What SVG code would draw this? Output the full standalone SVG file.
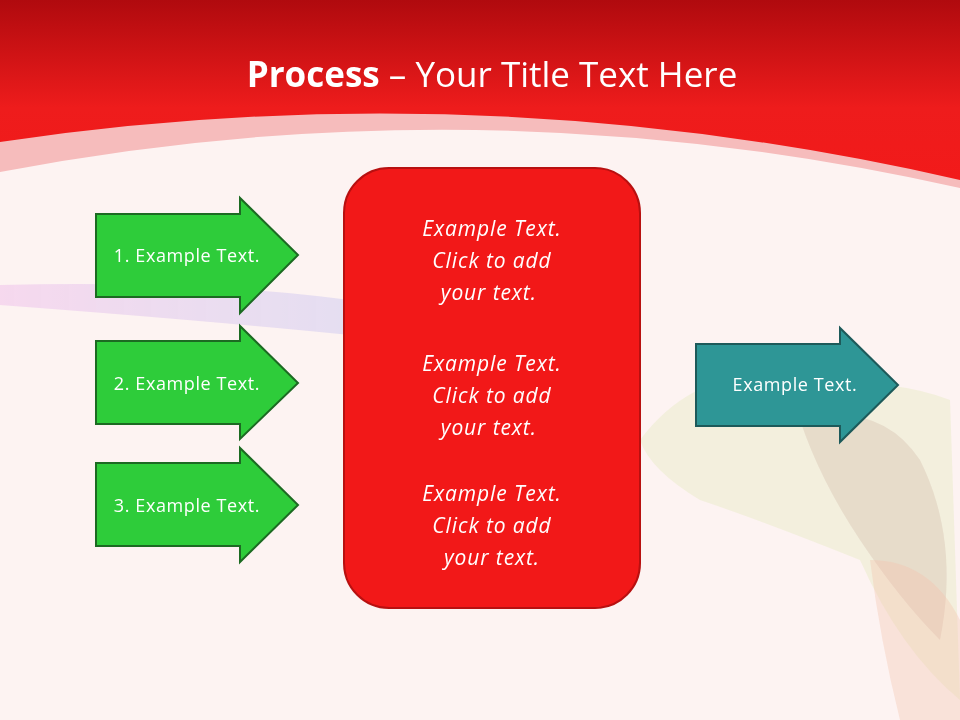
<svg xmlns="http://www.w3.org/2000/svg" width="960" height="720" viewBox="0 0 960 720">
<defs>
<linearGradient id="hdr" x1="0" y1="0" x2="0" y2="1"><stop offset="0" stop-color="#b00a0e"/><stop offset="0.6" stop-color="#ee1c1c"/><stop offset="1" stop-color="#f21a1a"/></linearGradient>
<linearGradient id="streak" x1="0" y1="0" x2="1" y2="0"><stop offset="0" stop-color="#e8a8e8" stop-opacity="0.7"/><stop offset="1" stop-color="#b0b0f0" stop-opacity="0.6"/></linearGradient>
<style>
.g{fill:#2ecc3a;stroke:#1c6a22;stroke-width:2}
.t{fill:#2e9696;stroke:#1d5a5a;stroke-width:2}
.lbl{font-family:"Open Sans","Liberation Sans",sans-serif;font-size:18px;letter-spacing:0.6px;fill:#fff;text-anchor:middle}
.box{font-family:"Open Sans","Liberation Sans",sans-serif;font-size:21px;letter-spacing:0.9px;font-style:italic;fill:#fff;text-anchor:middle}
</style>
</defs>
<rect width="960" height="720" fill="#fdf3f2"/>
<path d="M0 172 Q480 80 960 188 L960 0 L0 0Z" fill="#f6bcbc"/>
<path d="M0 142 Q480 70 960 180 L960 0 L0 0Z" fill="url(#hdr)"/>
<g opacity="0.5">
<path d="M0 285 Q200 280 350 300 L350 335 Q200 320 0 305Z" fill="url(#streak)"/>
<path d="M640 440 Q700 360 800 380 Q900 380 950 400 L960 700 Q900 650 860 560 Q760 520 700 500 Q650 470 640 440Z" fill="#d8e6a0" opacity="0.5"/>
<path d="M800 420 Q880 400 920 460 Q960 540 940 640 Q900 600 860 540 Q820 480 800 420Z" fill="#9a6a50" opacity="0.3"/>
<path d="M870 560 Q930 560 960 620 L960 720 L900 720 Q880 640 870 560Z" fill="#e89060" opacity="0.35"/>
</g>
<text x="492" y="87" font-family="'Open Sans','Liberation Sans',sans-serif" font-size="35" fill="#fff" text-anchor="middle"><tspan font-weight="bold">Process</tspan> – Your Title Text Here</text>
<g id="connectors"></g>
<g id="arrow1"><path class="g" d="M96 214 H240 V198 L298 255 L240 313 V297 H96Z"/><text class="lbl" x="187" y="262">1. Example Text.</text></g>
<g id="arrow2"><path class="g" d="M96 341 H240 V326 L298 383 L240 439 V424 H96Z"/><text class="lbl" x="187" y="390">2. Example Text.</text></g>
<g id="arrow3"><path class="g" d="M96 463 H240 V448 L298 505 L240 562 V546 H96Z"/><text class="lbl" x="187" y="512">3. Example Text.</text></g>
<g id="center"><rect x="344" y="168" width="296" height="440" rx="45" fill="#f21818" stroke="#b81010" stroke-width="2"/>
<text class="box"><tspan x="492" y="236">Example Text.</tspan><tspan x="492" y="268">Click  to add</tspan><tspan x="492" y="300">your text.</tspan>
<tspan x="492" y="371">Example Text.</tspan><tspan x="492" y="403">Click  to add</tspan><tspan x="492" y="435">your text.</tspan>
<tspan x="492" y="501">Example Text.</tspan><tspan x="492" y="533">Click  to add</tspan><tspan x="492" y="565">your text.</tspan></text></g>
<g id="output"><path class="t" d="M696 344 H840 V328 L898 385 L840 442 V426 H696Z"/><text class="lbl" x="795" y="391">Example Text.</text></g>
</svg>
